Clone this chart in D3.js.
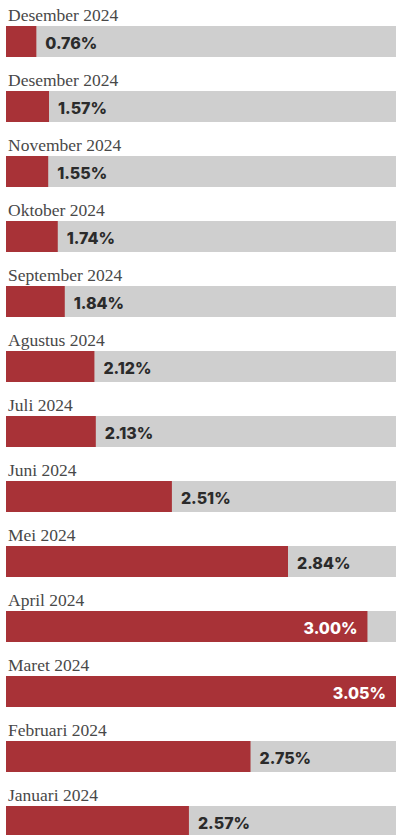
<!DOCTYPE html>
<html>
<head>
<meta charset="utf-8">
<script src="https://cdn.jsdelivr.net/npm/d3@7"></script>
<style>
  body { margin: 0; background: #fff; }
  svg { display: block; }
</style>
</head>
<body>
<svg id="chart"></svg>
<script>
// Monthly rates, newest first (as in the infographic)
const months = ["Desember 2024", "Desember 2024", "November 2024", "Oktober 2024", "September 2024",
                "Agustus 2024", "Juli 2024", "Juni 2024", "Mei 2024", "April 2024",
                "Maret 2024", "Februari 2024", "Januari 2024"];
const rates = [0.76, 1.57, 1.55, 1.74, 1.84, 2.12, 2.13, 2.51, 2.84, 3.00, 3.05, 2.75, 2.57];

const width = 402, height = 835;
const trackLeft = 6, trackRight = 396;
const barH = 31, step = 65, firstTop = 26;

const svg = d3.select("#chart")
    .attr("width", width)
    .attr("height", height);

const idx = d3.range(months.length);

// Bars in the original are not linear in the value - a power scale gets close
const x = d3.scalePow()
    .exponent(5)
    .domain([0, d3.max(rates)])
    .range([30, trackRight - trackLeft]);

const y = d3.scaleBand()
    .domain(idx)
    .range([firstTop, firstTop + step * (months.length - (step - barH) / step)])
    .paddingInner((step - barH) / step)
    .paddingOuter(0);

const row = svg.selectAll("g.row")
  .data(idx)
  .join("g")
    .attr("class", "row")
    .attr("transform", i => "translate(0," + y(i) + ")");

// grey track
row.append("rect")
    .attr("x", trackLeft)
    .attr("width", trackRight - trackLeft)
    .attr("height", y.bandwidth())
    .attr("fill", "#cfcfcf");

// red value bar
row.append("rect")
    .attr("x", trackLeft)
    .attr("width", i => x(rates[i]))
    .attr("height", y.bandwidth())
    .attr("fill", "#a83237");

// month label
row.append("text")
    .attr("x", 8)
    .attr("y", -5)
    .style("font-family", "'Liberation Serif', serif")
    .style("font-size", "17.5px")
    .attr("fill", "#484848")
    .text(i => months[i]);

// value label, inside the bar when the bar nearly fills the track
const inside = i => x(rates[i]) > (trackRight - trackLeft) - 60;

row.append("text")
    .attr("x", i => inside(i) ? trackLeft + x(rates[i]) - 10 : trackLeft + x(rates[i]) + 9)
    .attr("y", 23)
    .attr("text-anchor", i => inside(i) ? "end" : "start")
    .style("font-family", "Inter, sans-serif")
    .style("font-weight", 800)
    .style("font-size", "16px")
    .attr("fill", i => inside(i) ? "#fff" : "#2b2b2b")
    .text(i => rates[i].toFixed(2) + "%");
</script>
</body>
</html>
